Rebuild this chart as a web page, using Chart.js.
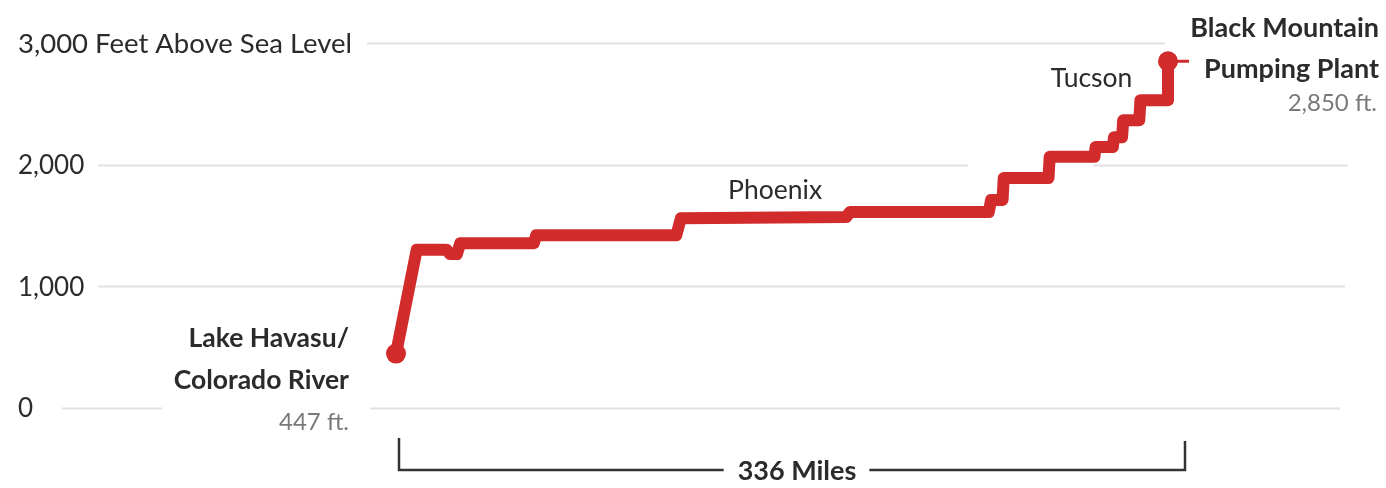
<!DOCTYPE html>
<html>
<head>
<meta charset="utf-8">
<script src="https://cdn.jsdelivr.net/npm/chart.js@4"></script>
<style>
  html, body { margin: 0; padding: 0; background: #ffffff; }
  #wrap { width: 1386px; height: 488px; position: relative; }
</style>
</head>
<body>
<div id="wrap"><canvas id="chart" width="1386" height="488"></canvas></div>
<script>
// Distance along the canal (miles) and elevation (feet above sea level)
const miles = [0, 9, 22, 23.5, 26.5, 28, 60, 61, 122, 124, 196, 197.5, 258, 259, 264, 264.5,
               284, 284.5, 304, 304.5, 312, 312.5, 316, 316.5, 323.5, 324, 336, 336];
const elevation = [447, 1300, 1300, 1265, 1265, 1355, 1355, 1420, 1420, 1560, 1570, 1610, 1610,
                   1710, 1710, 1890, 1890, 2065, 2065, 2145, 2145, 2225, 2225, 2365, 2365,
                   2530, 2530, 2850];

const tickValues = [0, 1000, 2000, 3000];
const tickLabels = ['0', '1,000', '2,000', '3,000 Feet Above Sea Level'];

const startLabel = ['Lake Havasu/', 'Colorado River'];
const startValueLabel = '447 ft.';
const endLabel = ['Black Mountain', 'Pumping Plant'];
const endValueLabel = '2,850 ft.';
const cityNames = ['Phoenix', 'Tucson'];
const cityMiles = [165, 320.5];
const cityElevation = [1790, 2710];
const totalMiles = 336;
const distanceLabel = '336 Miles';

const RED = '#d22b2b';
const INK = '#2b2b2b';
const GREY_TEXT = '#7a7a7a';
const GRID = '#e2e2e2';
const FONT = 'Lato, "Open Sans", sans-serif';

const points = miles.map((m, i) => ({ x: m, y: elevation[i] }));
const radii = points.map((p, i) => (i === 0 || i === points.length - 1) ? 10 : 0);

// Horizontal rules, broken around the labels (pixel spans per tick)
const gridSpans = {
  0:    [[62, 162], [370, 1340]],
  1000: [[98, 1345]],
  2000: [[98, 968], [1093, 1348]],
  3000: [[367, 1165]]
};

const decorations = {
  id: 'decorations',
  beforeDatasetsDraw(chart) {
    const { ctx, scales: { x, y } } = chart;
    ctx.save();
    // grid rules
    ctx.strokeStyle = GRID;
    ctx.lineWidth = 2;
    tickValues.forEach(v => {
      const py = Math.round(y.getPixelForValue(v)) + 0.5;
      gridSpans[v].forEach(([a, b]) => {
        ctx.beginPath(); ctx.moveTo(a, py); ctx.lineTo(b, py); ctx.stroke();
      });
    });
    // axis labels
    ctx.fillStyle = INK;
    ctx.textAlign = 'left';
    ctx.textBaseline = 'middle';
    tickValues.forEach((v, i) => {
      ctx.font = (i === tickValues.length - 1 ? '27.5px ' : '26px ') + FONT;
      ctx.fillText(tickLabels[i], 18, y.getPixelForValue(v) + 1);
    });
    // city names
    ctx.font = '26.5px ' + FONT;
    ctx.textAlign = 'center';
    ctx.fillText(cityNames[0], x.getPixelForValue(cityMiles[0]), y.getPixelForValue(cityElevation[0]));
    ctx.textAlign = 'right';
    ctx.fillText(cityNames[1], x.getPixelForValue(cityMiles[1]), y.getPixelForValue(cityElevation[1]));

    // start labels
    const sx = x.getPixelForValue(0) - 47;
    ctx.font = 'bold 26.5px ' + FONT;
    ctx.fillText(startLabel[0], sx, 338);
    ctx.fillText(startLabel[1], sx, 380);
    ctx.fillStyle = GREY_TEXT;
    ctx.font = '24px ' + FONT;
    ctx.fillText(startValueLabel, sx, 422);

    // end labels
    const ex = x.getPixelForValue(totalMiles) + 211;
    ctx.fillStyle = INK;
    ctx.font = 'bold 27px ' + FONT;
    ctx.fillText(endLabel[0], ex, 28);
    ctx.fillText(endLabel[1], ex, 69);
    ctx.fillStyle = GREY_TEXT;
    ctx.font = '24px ' + FONT;
    ctx.fillText(endValueLabel, ex - 2, 103);

    // distance bracket
    const bl = x.getPixelForValue(0) + 3;
    const br = x.getPixelForValue(totalMiles) + 17;
    const by = 470;
    const mid = (bl + br) / 2 + 5;
    ctx.font = 'bold 27px ' + FONT;
    const tw = ctx.measureText(distanceLabel).width;
    ctx.strokeStyle = '#333333';
    ctx.lineWidth = 2.5;
    ctx.beginPath();
    ctx.moveTo(bl, 438); ctx.lineTo(bl, by); ctx.lineTo(mid - tw / 2 - 14, by);
    ctx.moveTo(mid + tw / 2 + 13, by); ctx.lineTo(br, by); ctx.lineTo(br, 441);
    ctx.stroke();
    ctx.fillStyle = INK;
    ctx.textAlign = 'center';
    ctx.fillText(distanceLabel, mid, by + 1);
    ctx.restore();
  },
  afterDatasetsDraw(chart) {
    const { ctx, scales: { x, y } } = chart;
    const px = x.getPixelForValue(totalMiles);
    const py = y.getPixelForValue(elevation[elevation.length - 1]);
    ctx.save();
    ctx.strokeStyle = RED;
    ctx.lineWidth = 3;
    ctx.beginPath(); ctx.moveTo(px, py); ctx.lineTo(px + 21, py); ctx.stroke();
    ctx.restore();
  }
};

new Chart(document.getElementById('chart'), {
  type: 'line',
  data: {
    datasets: [{
      data: points,
      borderColor: RED,
      backgroundColor: RED,
      borderWidth: 12,
      borderJoinStyle: 'round',
      borderCapStyle: 'round',
      pointRadius: radii,
      pointHoverRadius: radii,
      pointBorderWidth: 0,
      pointBackgroundColor: RED,
      tension: 0,
      clip: false
    }]
  },
  options: {
    responsive: false,
    animation: false,
    events: [],
    layout: { padding: { left: 396, right: 218, top: 43, bottom: 80 } },
    scales: {
      x: { type: 'linear', min: 0, max: totalMiles, display: false },
      y: { type: 'linear', min: 0, max: 3000, display: false }
    },
    plugins: { legend: { display: false }, tooltip: { enabled: false } }
  },
  plugins: [decorations]
});
</script>
</body>
</html>
